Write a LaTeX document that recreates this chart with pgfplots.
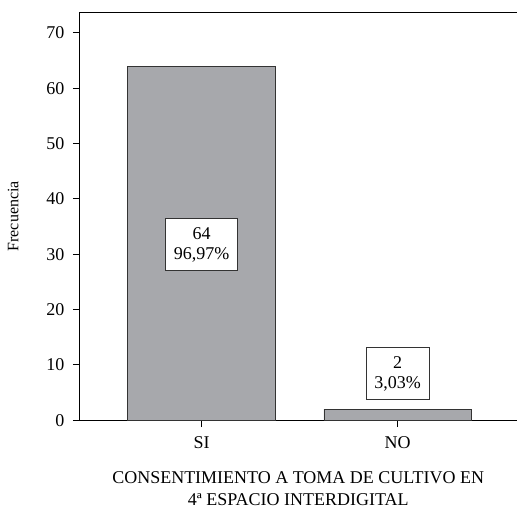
\documentclass[border=0pt]{standalone}
\usepackage{pgfplots}
\pgfplotsset{compat=1.18}
\usepackage{fontspec}
\setmainfont{Liberation Serif}
\usetikzlibrary{calc}
\definecolor{barfill}{HTML}{A7A8AC}
\definecolor{baredge}{HTML}{333333}
\begin{document}
\begin{tikzpicture}
\begin{axis}[
  scale only axis,
  width=437pt, height=408pt,
  xmin=-0.62, xmax=1.606,
  ymin=0, ymax=73.7,
  axis x line*=bottom,
  axis y line*=left,
  axis line style={line width=0.9pt, black},
  ytick={0,10,20,30,40,50,60,70},
  xtick={0,1},
  xticklabels={SI,NO},
  tick align=outside,
  major tick length=7pt,
  tick style={line width=0.9pt, black},
  /pgf/number format/assume math mode=true,
  ticklabel style={font=\fontsize{18}{20}\selectfont},
  yticklabel style={xshift=-5pt},
  xticklabel style={yshift=-6pt},
  xlabel={CONSENTIMIENTO A TOMA DE CULTIVO EN\\4ª ESPACIO INTERDIGITAL},
  xlabel style={align=center, font=\fontsize{18}{22}\selectfont, yshift=-16pt},
  ylabel={Frecuencia},
  ylabel style={font=\fontsize{16}{18}\selectfont, yshift=21pt},
  clip=false,
]
\addplot[ybar, bar width=0.752, fill=barfill, draw=baredge, line width=0.8pt] coordinates {(0,64) (1,2)};
\draw[line width=0.9pt] (rel axis cs:0,1) -- (rel axis cs:1,1);
\node[draw=baredge, line width=0.8pt, fill=white, align=center, inner xsep=8pt, minimum height=52pt, font=\fontsize{18}{20}\selectfont] at (axis cs:0,31.75) {64\\96,97\%};
\node[draw=baredge, line width=0.8pt, fill=white, align=center, inner xsep=8pt, minimum height=52pt, font=\fontsize{18}{20}\selectfont] at (axis cs:1,8.4) {2\\3,03\%};
\end{axis}
\path[use as bounding box] ($(current axis.south west)+(-80pt,-84pt)$) rectangle ($(current axis.north east)+(0pt,12.5pt)$);
\end{tikzpicture}
\end{document}
